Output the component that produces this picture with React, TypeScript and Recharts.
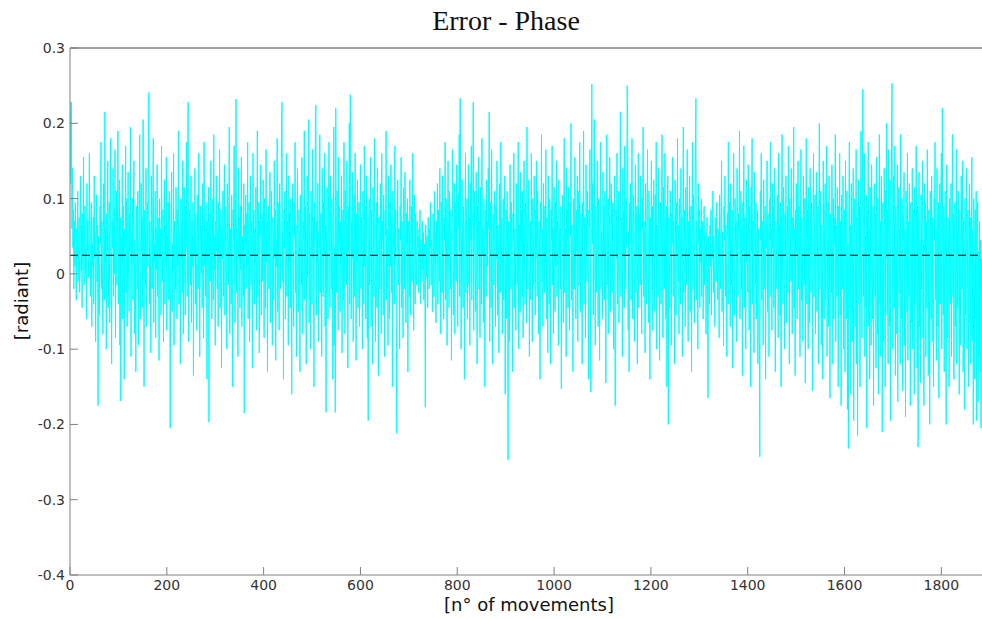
import React from 'react';
import { LineChart, Line, XAxis, YAxis, ReferenceLine } from 'recharts';

// phase error per movement, in thousandths of a radian
const errorMilli: number[] = [
230,215,120,228,60,140,35,85,-20,70,10,95,45,-35,60,20,110,-10,50,75,
-25,40,130,5,65,-45,80,25,155,-15,55,90,0,35,-60,120,30,70,-5,45,
160,15,-30,60,95,-70,40,10,75,-40,130,20,55,-90,35,105,-10,65,-175,50,
25,-55,90,40,175,-20,70,5,-80,120,45,-35,215,15,60,-100,80,30,150,-45,
10,95,-65,55,180,20,-120,70,35,140,-30,85,0,165,-85,45,110,-15,60,190,
-40,30,125,-95,75,-169,50,20,145,-60,90,10,-140,60,35,170,-25,100,-70,40,
135,5,-50,80,30,195,-110,55,15,100,-35,70,150,-80,45,25,-130,90,60,-20,
110,40,-95,65,185,0,-60,120,30,75,-45,205,20,-150,85,50,-15,140,-70,35,
95,10,165,241,-40,70,25,-105,130,55,-20,90,180,-65,40,15,110,-85,60,5,
145,-30,75,35,-115,100,20,60,-55,170,45,-10,85,-90,30,125,-40,65,10,155,
-75,50,20,95,-35,110,60,-205,15,80,135,-50,40,5,160,-95,70,25,-20,115,
45,-60,85,10,190,-40,55,30,-120,100,20,70,-25,150,-80,40,115,5,-55,90,
35,175,-30,60,228,-90,20,85,45,-15,130,-65,70,10,95,-135,50,25,140,-40,
80,15,-75,105,40,-20,160,55,-110,30,90,0,65,-45,120,25,-85,175,10,60,
-30,95,45,-140,70,20,115,-197,35,80,-10,150,60,-60,25,100,-35,185,5,50,
-95,70,30,130,-20,55,-70,95,15,165,-45,40,85,-125,60,20,110,-30,75,145,
-55,35,90,10,-100,120,50,-15,70,195,-80,25,60,-40,105,30,-150,85,45,170,
15,-65,100,232,-25,60,35,-110,140,20,75,-45,90,5,155,-70,50,25,-30,120,
-185,65,40,105,-20,80,10,175,-60,45,95,-90,30,130,-15,70,55,-125,160,25,
85,-40,60,15,115,-75,40,190,-30,95,20,-105,70,50,145,-55,35,80,-10,125,
45,-85,100,30,-45,165,15,70,-130,55,90,-20,40,135,-65,25,110,5,-95,75,
60,-35,150,20,85,-115,45,10,180,-50,95,30,-75,120,40,-20,65,200,228,-10,
55,-140,85,35,110,-60,25,160,-30,70,45,-95,130,15,80,-45,100,60,-160,40,
120,10,-70,95,50,175,-25,65,-110,30,140,20,-50,85,40,-130,105,60,-15,155,
25,-80,70,45,190,-35,90,15,-120,60,130,-5,40,205,-65,80,30,-100,110,50,
-40,165,20,75,-150,95,45,210,224,-55,70,15,120,-90,55,35,185,-25,80,10,
-110,140,50,-30,95,25,160,-70,65,-184,40,115,10,-60,85,175,30,-45,130,60,
-20,100,45,-140,75,195,-95,35,-184,220,60,-25,110,20,-75,155,40,90,-50,70,
15,130,-105,55,85,-35,175,25,-80,110,45,-15,150,60,-125,90,30,200,-40,238,
180,-60,70,20,135,-90,50,105,-30,160,35,-115,80,15,125,-45,60,95,-70,40,
145,-20,75,30,-100,110,55,-40,170,10,90,-60,45,130,-85,25,-195,65,100,-15,
50,155,-70,85,20,-120,115,40,-30,180,60,-90,35,95,-45,140,10,-135,75,55,
-20,120,30,-80,160,45,70,-55,105,15,-110,85,50,190,-35,60,25,-95,130,40,
-60,95,10,145,-25,75,-150,110,35,55,-40,170,20,85,-70,-212,40,125,-15,60,
30,-100,90,45,155,-45,70,15,-85,115,50,-20,135,25,-65,80,40,100,-130,55,
70,-30,125,15,-55,90,45,-10,160,30,-75,60,105,-40,80,20,-15,70,35,50,
-25,60,15,85,-40,45,30,-10,70,5,55,-35,40,20,-177,65,-5,50,30,-45,
75,10,-20,60,35,95,-15,45,25,-50,80,40,-30,110,15,55,-65,70,30,120,
-40,85,50,-10,140,20,-80,95,60,-25,130,35,-60,75,45,175,-35,100,15,-95,
65,150,30,-45,110,55,-20,85,-115,40,165,70,-55,25,120,-80,50,95,-10,145,
35,-70,105,60,185,-30,233,80,-100,50,125,15,-45,90,40,-140,70,160,-25,55,
100,-60,30,145,-15,75,-95,120,45,170,-35,60,85,228,-75,40,110,20,-50,135,
65,-120,90,30,155,-20,70,-85,115,45,-40,180,25,60,-65,100,35,-150,85,50,
125,-30,70,10,140,60,215,-90,45,95,-45,165,30,-120,80,55,-15,110,40,-70,
90,20,150,-55,65,35,-105,120,50,-25,175,15,75,-80,45,100,-35,60,130,-160,
25,85,-60,110,40,-247,70,35,-90,145,55,-20,95,15,-130,80,45,160,-45,60,
30,-75,120,50,-15,90,175,-100,65,25,-50,135,40,85,-30,110,-85,55,150,20,
-40,95,60,-65,195,30,-20,80,125,-110,45,70,-35,160,15,-90,100,50,-15,130,
65,-55,85,20,150,-30,110,45,-80,70,35,-140,95,55,185,-10,60,-70,120,40,
-25,90,15,165,-60,75,30,-105,130,50,-40,100,20,-120,85,45,170,-15,60,-80,
115,35,-50,95,10,150,-30,70,45,-95,125,20,60,-20,90,-153,40,105,55,-65,
75,180,-25,60,30,-110,140,45,85,-45,115,15,-75,95,50,200,-35,65,25,-130,
100,40,-20,155,70,-60,85,30,130,-90,55,110,-15,175,45,-50,80,20,-120,95,
60,190,-40,75,35,-85,145,50,-10,110,25,-140,85,60,165,-30,-157,95,252,40,
120,-55,70,205,15,-95,90,45,-25,150,60,-70,100,30,-115,80,175,-20,55,40,
-60,135,25,90,-35,110,50,-145,75,185,-15,65,100,-80,40,155,30,-50,120,60,
-25,95,45,-100,70,130,-175,-170,85,20,160,-40,60,110,-65,35,90,215,-30,75,
50,-110,140,25,85,-45,170,60,-20,100,35,250,210,-75,55,-130,95,40,120,-35,
65,180,-60,45,105,15,-90,75,145,-25,55,90,-120,35,160,-45,80,50,-15,130,
40,-80,100,60,195,-30,70,25,-105,120,50,-40,85,165,15,-65,110,45,-140,75,
30,150,-20,90,-75,60,125,40,-50,105,20,175,-100,65,45,-30,140,80,-115,55,
95,-40,70,185,20,-85,115,50,-20,160,35,-60,90,-150,45,130,-200,75,25,-45,
110,60,-95,80,40,155,-30,70,15,-120,125,50,-55,95,30,180,-10,65,-80,100,
45,-40,140,20,75,-110,60,195,-25,85,35,-70,115,50,-15,165,40,-90,70,25,
130,-50,60,90,-130,45,175,-20,105,55,-65,80,170,233,-35,70,20,-100,120,40,
85,-45,60,15,100,-30,45,70,-60,35,90,-15,55,25,-80,40,75,-20,-165,50,
30,-40,65,10,85,-55,40,20,110,-25,50,5,-70,75,35,-10,95,45,-35,60,
20,-85,105,40,-20,70,150,-50,55,25,-95,90,45,130,-30,65,15,-110,80,50,
175,-40,95,30,-70,120,60,-15,85,-125,45,160,20,-55,100,35,70,-90,140,25,
-30,80,55,190,-60,40,110,-20,65,-135,95,30,170,-45,75,50,-100,125,15,60,
-25,145,40,-75,90,60,-150,115,30,180,-40,70,20,-105,135,50,-15,95,-60,40,
85,-120,60,30,-80,-243,110,45,160,-35,70,20,-95,125,55,-20,90,-140,65,35,
150,-50,80,15,-110,100,45,175,-30,60,-75,120,35,90,-45,140,20,-130,70,55,
-20,105,40,-85,160,30,65,-55,95,-150,50,185,10,-40,115,60,-100,80,25,130,
-65,45,90,-25,170,35,-120,100,55,-10,140,20,-80,75,45,195,-45,60,-135,85,
30,120,-60,70,150,-20,90,40,-110,55,165,-35,75,25,-90,130,50,-15,100,-145,
60,180,-40,85,30,-100,115,45,-65,140,20,-25,95,55,-155,70,160,-30,40,105,
-80,60,135,-50,25,90,-120,75,200,-20,45,110,-95,65,35,-140,150,30,-60,85,
120,-35,55,170,-110,40,95,-70,130,20,-165,80,50,-25,145,35,-120,100,-60,75,
40,185,-90,65,-30,115,50,-150,90,25,160,-55,70,-175,105,45,-20,130,-100,60,
85,-130,150,30,-60,110,-180,40,-232,95,175,-45,65,-160,120,20,-90,80,140,-195,
55,100,-70,30,165,-120,75,-215,45,125,-40,90,-150,60,190,10,-85,135,245,-30,
70,160,-110,50,-45,105,-205,85,30,175,-70,60,-140,115,20,-95,145,40,-60,90,
-175,65,120,-30,80,-125,155,25,-80,100,-160,50,185,-40,70,-110,130,35,-210,95,
45,-90,140,60,-150,110,20,200,-55,85,-120,165,30,-70,125,-195,75,150,253,10,
-100,130,55,-45,170,-135,90,40,-80,145,-170,65,115,-25,60,-120,185,30,-60,100,
-155,80,45,135,-95,60,-190,110,25,-50,160,-115,70,-30,120,40,-175,95,55,-65,
140,-100,30,85,-160,115,50,-40,170,20,-125,90,-230,60,135,-70,45,-145,105,-20,
65,150,-85,40,-175,120,30,95,-110,70,-45,165,25,-135,85,55,-200,110,40,-60,
130,-90,75,20,-150,100,45,175,-35,60,-115,140,30,-70,95,-165,50,120,-40,80,
160,-100,220,35,-55,90,-130,65,110,-20,-200,145,40,-85,75,25,-150,100,55,-40,
120,-110,60,185,-30,80,-140,45,95,-70,30,165,-120,55,-45,110,20,-160,85,40,
-95,130,50,-20,150,-130,70,35,-180,100,-55,60,140,-100,25,85,-150,45,120,-65,
75,-120,30,155,-90,60,-200,100,40,-140,85,-60,110,-195,50,95,-170,30,-110,70,
-130,45,-205,20,
];

const meanError = 0.0247;
const xMax = 1884;
const xTicks = [0, 200, 400, 600, 800, 1000, 1200, 1400, 1600, 1800];
const yTicks = [-0.4, -0.3, -0.2, -0.1, 0, 0.1, 0.2, 0.3];
const yTickLabels = ['-0.4', '-0.3', '-0.2', '-0.1', '0', '0.1', '0.2', '0.3'];
const titleText = 'Error - Phase';
const xLabelText = '[n° of movements]';
const yLabelText = '[radiant]';

const data = errorMilli.map((v, i) => ({ n: i, err: v / 1000 }));

const tickFont = { fill: '#333', fontSize: 14, fontFamily: 'DejaVu Sans, Verdana, sans-serif' };

const fmtY = (v: number) => {
  const idx = yTicks.findIndex((t) => Math.abs(t - v) < 1e-9);
  return idx >= 0 ? yTickLabels[idx] : String(v);
};

export default function App() {
  return (
    <div style={{ position: 'absolute', left: 0, top: 0, width: 982, height: 619, background: '#fff', overflow: 'hidden' }}>
      <LineChart width={984} height={619} data={data} margin={{ top: 46, right: 0, bottom: 14, left: 0 }}>
        <XAxis
          xAxisId="b"
          dataKey="n"
          type="number"
          domain={[0, xMax]}
          ticks={xTicks}
          interval={0}
          allowDataOverflow
          tickSize={-8}
          tickMargin={13}
          height={30}
          stroke="#808080"
          tick={tickFont}
        />
        <XAxis
          xAxisId="t"
          orientation="top"
          dataKey="n"
          type="number"
          domain={[0, xMax]}
          ticks={xTicks}
          interval={0}
          allowDataOverflow
          tickSize={-8}
          tick={false}
          height={2}
          stroke="#404040"
        />
        <YAxis
          yAxisId="l"
          type="number"
          domain={[-0.4, 0.3]}
          ticks={yTicks}
          interval={0}
          allowDataOverflow
          tickSize={-8}
          tickMargin={13}
          width={70}
          stroke="#808080"
          tick={tickFont}
          tickFormatter={fmtY}
        />
        <YAxis
          yAxisId="r"
          orientation="right"
          type="number"
          domain={[-0.4, 0.3]}
          ticks={yTicks}
          interval={0}
          allowDataOverflow
          tickSize={-8}
          tick={false}
          width={2}
          axisLine={false}
          stroke="#808080"
        />
        <Line
          xAxisId="b"
          yAxisId="l"
          type="linear"
          dataKey="err"
          stroke="#00ffff"
          strokeWidth={1}
          dot={false}
          activeDot={false}
          isAnimationActive={false}
        />
        <ReferenceLine xAxisId="b" yAxisId="l" y={meanError} stroke="#000" strokeWidth={1} strokeDasharray="8 4" />
      </LineChart>
      <svg width={982} height={619} style={{ position: 'absolute', left: 0, top: 0, pointerEvents: 'none' }}>
        <text x={506} y={30} textAnchor="middle" fontFamily="Liberation Serif, Times New Roman, serif" fontSize={28} fill="#111">
          {titleText}
        </text>
        <text x={529} y={611} textAnchor="middle" fontFamily="DejaVu Sans, Verdana, sans-serif" fontSize={18} fill="#111">
          {xLabelText}
        </text>
        <text transform="translate(28,301) rotate(-90)" textAnchor="middle" fontFamily="DejaVu Sans, Verdana, sans-serif" fontSize={18} fill="#111">
          {yLabelText}
        </text>
      </svg>
    </div>
  );
}
